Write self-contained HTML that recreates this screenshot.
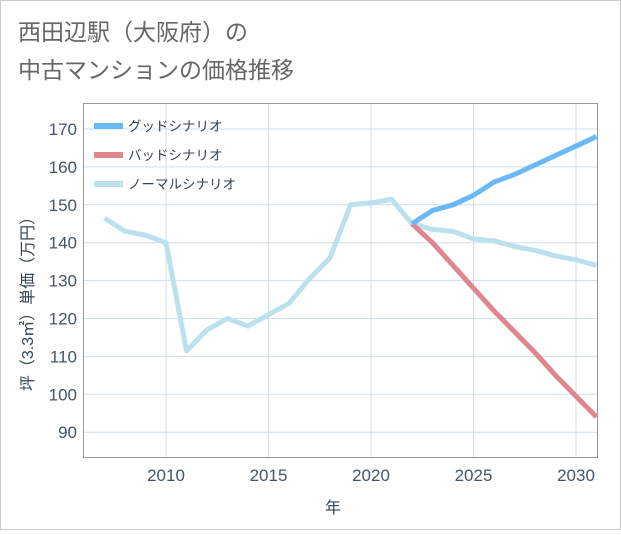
<!DOCTYPE html>
<html><head><meta charset="utf-8"><style>
body{margin:0;background:#fff;font-family:"Liberation Sans","Noto Sans CJK JP",sans-serif}
svg text{font-family:"Liberation Sans","Noto Sans CJK JP",sans-serif}
</style></head><body>
<svg id="c" width="621" height="530">
<rect x="0.5" y="0.5" width="620" height="529" fill="#fff" stroke="#ccc"/>
<text x="18" y="40" font-size="23" fill="#666">西田辺駅（大阪府）の</text>
<text x="18" y="78" font-size="23" fill="#666">中古マンションの価格推移</text>
<g id="grid"></g>
<rect x="83.5" y="103.5" width="514" height="354" fill="none" stroke="#999"/>
<g id="marks"></g>
<text transform="translate(33,300) rotate(-90)" text-anchor="middle" font-size="16" fill="#345">坪（3.3㎡）単価（万円）</text>
<text x="333" y="513" text-anchor="middle" font-size="16" fill="#345">年</text>
<g id="legend"></g>
</svg>
<script>
const years=[2007,2008,2009,2010,2011,2012,2013,2014,2015,2016,2017,2018,2019,2020,2021,2022,2023,2024,2025,2026,2027,2028,2029,2030,2031];
const normal=[146.5,143,142,140,111.5,117,120,118,121,124,130.5,136,150,150.5,151.5,145,143.5,143,141,140.5,139,138,136.5,135.5,134];
const goodYears=[2022,2023,2024,2025,2026,2027,2028,2029,2030,2031];
const good=[145,148.5,150,152.5,156,158,160.5,163,165.5,168];
const bad=[145,140,134,128,122,116.5,111,105,99.5,94];
const xTicks=[2010,2015,2020,2025,2030];
const yTicks=[90,100,110,120,130,140,150,160,170];
const NS="http://www.w3.org/2000/svg";
const X=v=>166+(v-2010)*20.5;
const Y=v=>129+(170-v)*3.79;
function mk(t,a,p){const e=document.createElementNS(NS,t);for(const k in a)e.setAttribute(k,a[k]);p.appendChild(e);return e;}
const grid=document.getElementById('grid'),marks=document.getElementById('marks'),leg=document.getElementById('legend');
xTicks.forEach(v=>{const l=mk('line',{x1:X(v),x2:X(v),y1:104,y2:457,stroke:'#cfdfea'},grid);

const t=mk('text',{x:X(v),y:481,'text-anchor':'middle','font-size':17,fill:'#456'},grid);t.textContent=v;
});
yTicks.forEach(v=>{const l=mk('line',{x1:84,x2:597,y1:Y(v),y2:Y(v),stroke:'#cfdfea'},grid);

const t=mk('text',{x:77,y:Y(v)+6,'text-anchor':'end','font-size':17,fill:'#456'},grid);t.textContent=v;
});
function line(xs,ys,col,name){const p=mk('polyline',{points:xs.map((x,i)=>X(x)+','+Y(ys[i])).join(' '),fill:'none',stroke:col,'stroke-width':5,'stroke-linejoin':'round'},marks);
}
line(years,normal,'#bde0ee','normal-scenario-line');
line(goodYears,bad,'#e0868f','bad-scenario-line');
line(goodYears,good,'#6ab9f5','good-scenario-line');
[['グッドシナリオ','#6ab9f5'],['バッドシナリオ','#e0868f'],['ノーマルシナリオ','#bde0ee']].forEach((d,i)=>{
const y=126+i*29;const g=mk('g',{},leg);
mk('rect',{x:94,y:y-3,width:29,height:6,fill:d[1]},g);
const t=mk('text',{x:128,y:y+5,'font-size':13.5,fill:'#345'},g);t.textContent=d[0];});
</script>
</body></html>
